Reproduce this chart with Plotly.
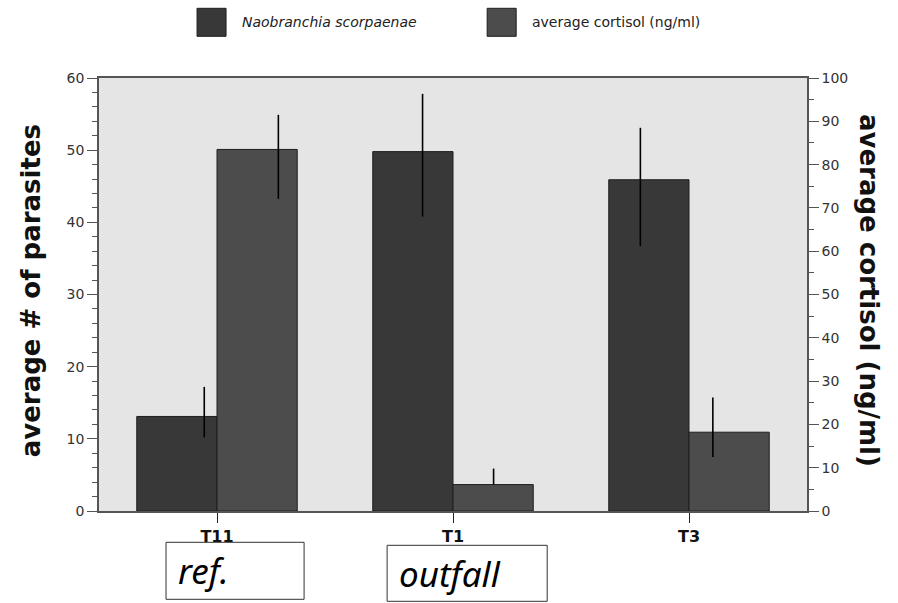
import plotly.graph_objects as go

# ---- data ----
categories = ["T11", "T1", "T3"]
parasites = [13.1, 49.8, 45.9]
parasites_err_plus = [4.1, 8.0, 7.2]
parasites_err_minus = [2.9, 9.0, 9.2]
cortisol = [83.5, 6.1, 18.2]
cortisol_err_plus = [8.0, 3.7, 8.0]
cortisol_err_minus = [11.4, 0.0, 5.7]
site_labels = ["ref.", "outfall"]

# ---- layout constants ----
W, H = 898, 603
L, R, T, B = 99, 806.7, 77.7, 510.7
PW, PH = R - L, B - T
xs = list(range(len(categories)))
bw = 0.34
# error-bar horizontal shifts as drawn in the original (fraction of category width from its centre)
shift_par = [-0.054, -0.129, -0.206]
shift_cor = [0.26, 0.172, 0.101]

def xp(px):
    return (px - L) / PW

def yp(py):
    return (B - py) / PH

DARK = "#383838"
MID = "#4c4c4c"
EDGE = "#1e1e1e"
SANS = "DejaVu Sans, Liberation Sans, sans-serif"

fig = go.Figure()
fig.add_trace(go.Bar(x=xs, y=parasites, width=bw, offset=-bw, marker=dict(color=DARK, line=dict(color=EDGE, width=1)),
                     name="Naobranchia scorpaenae", showlegend=False, yaxis="y"))
fig.add_trace(go.Bar(x=xs, y=cortisol, width=bw, offset=0, marker=dict(color=MID, line=dict(color=EDGE, width=1)),
                     name="average cortisol (ng/ml)", showlegend=False, yaxis="y2"))
fig.add_trace(go.Scatter(x=[x + s for x, s in zip(xs, shift_par)], y=parasites, mode="markers",
                         marker=dict(opacity=0, size=1), showlegend=False, hoverinfo="skip", yaxis="y",
                         error_y=dict(type="data", symmetric=False, array=parasites_err_plus,
                                      arrayminus=parasites_err_minus, width=0, thickness=1.6, color="#000")))
fig.add_trace(go.Scatter(x=[x + s for x, s in zip(xs, shift_cor)], y=cortisol, mode="markers",
                         marker=dict(opacity=0, size=1), showlegend=False, hoverinfo="skip", yaxis="y2",
                         error_y=dict(type="data", symmetric=False, array=cortisol_err_plus,
                                      arrayminus=cortisol_err_minus, width=0, thickness=1.6, color="#000")))

tickfont = dict(family=SANS, size=14, color="#333")
axcol = "#555"

fig.update_layout(
    width=W, height=H,
    margin=dict(l=L, r=W - R, t=T, b=H - B, pad=0),
    paper_bgcolor="white", plot_bgcolor="#e5e5e5",
    barmode="overlay",
    xaxis=dict(range=[-0.5, 2.5], tickvals=xs, ticktext=["<b>%s</b>" % c for c in categories],
               tickfont=dict(family=SANS, size=16, color="#111"),
               ticks="outside", ticklen=10, tickcolor="#222", showgrid=False, zeroline=False,
               showline=True, linecolor=axcol, linewidth=1.5, mirror=True),
    yaxis=dict(range=[0, 60], dtick=10, ticks="outside", ticklen=10, tickcolor=axcol, tickfont=tickfont,
               minor=dict(dtick=2, ticks="outside", ticklen=5, tickcolor=axcol, showgrid=False),
               showgrid=False, zeroline=False, showline=True, linecolor=axcol, linewidth=1.5),
    yaxis2=dict(range=[0, 100], dtick=10, overlaying="y", side="right", ticks="outside", ticklen=10,
                tickcolor=axcol, tickfont=tickfont,
                minor=dict(dtick=5, ticks="outside", ticklen=5, tickcolor=axcol, showgrid=False),
                showgrid=False, zeroline=False, showline=True, linecolor=axcol, linewidth=1.5),
)

shapes = []
annotations = []
# axis titles
annotations.append(dict(xref="paper", yref="paper", x=xp(14), y=yp(290), text="<b>average # of parasites</b>",
                        textangle=-90, showarrow=False, font=dict(family=SANS, size=26, color="#111")))
annotations.append(dict(xref="paper", yref="paper", x=xp(885), y=yp(290), text="<b>average cortisol (ng/ml)</b>",
                        textangle=90, showarrow=False, font=dict(family=SANS, size=26, color="#111")))
# legend
leg = [(197, 240, DARK, "<i>Naobranchia scorpaenae</i>"), (487, 530, MID, "average cortisol (ng/ml)")]
for sx, tx, col, txt in leg:
    shapes.append(dict(type="rect", xref="paper", yref="paper", x0=xp(sx), x1=xp(sx + 29), y0=yp(36), y1=yp(8),
                       fillcolor=col, line=dict(color=EDGE, width=1)))
    annotations.append(dict(xref="paper", yref="paper", x=xp(tx), y=yp(22), xanchor="left", yanchor="middle",
                            text=txt, showarrow=False, font=dict(family=SANS, size=14, color="#222")))
# site boxes
boxes = [(166, 304, 542, 599), (387, 547, 545, 601)]
for (x0, x1, y0, y1), lab in zip(boxes, site_labels):
    shapes.append(dict(type="rect", xref="paper", yref="paper", x0=xp(x0), x1=xp(x1), y0=yp(y1), y1=yp(y0),
                       fillcolor="white", line=dict(color="#333", width=1)))
    annotations.append(dict(xref="paper", yref="paper", x=xp(x0 + 10), y=yp((y0 + y1) / 2),
                            xanchor="left", yanchor="middle", text="<i>%s</i>" % lab, showarrow=False,
                            font=dict(family="Noto Sans, DejaVu Sans, sans-serif", size=35, color="#000")))

fig.update_layout(shapes=shapes, annotations=annotations)
fig.write_html("out.html")
